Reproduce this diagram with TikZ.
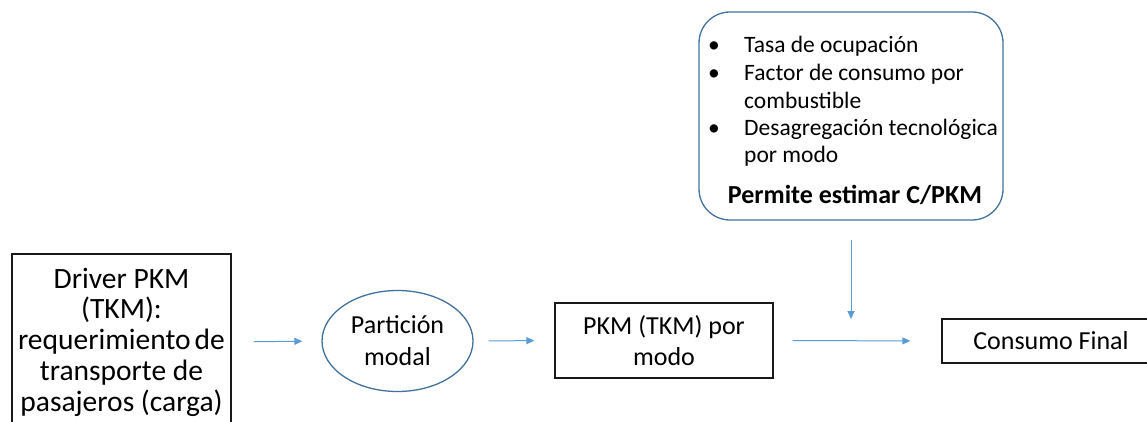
\documentclass[tikz,border=0pt]{standalone}
\usepackage{fontspec}
\setmainfont{Carlito}
\usetikzlibrary{arrows.meta,shapes.geometric}
\definecolor{flow}{HTML}{5B9BD5}
\definecolor{rim}{HTML}{41719C}
\tikzset{
  frame/.style={draw=black!90, line width=1.3pt, align=center, inner sep=0pt},
  body/.style={font=\fontsize{26}{31}\selectfont},
  oval/.style={ellipse, draw=rim, line width=1.3pt, align=center,
    inner xsep=-8pt, inner ysep=-10pt, font=\fontsize{26}{32}\selectfont},
  info/.style={draw=rim, line width=1.3pt, rounded corners=31pt, inner sep=0pt},
  flowarrow/.style={draw=flow, line width=1pt, -{Triangle[length=8pt,width=7pt]}},
  listline/.style={anchor=base west, inner sep=0pt, font=\fontsize{23.5}{28}\selectfont},
  listdot/.style={anchor=base, inner sep=0pt, font=\fontsize{23.5}{28}\selectfont},
  notetext/.style={anchor=base, inner sep=0pt, font=\fontsize{26}{30}\selectfont\bfseries}
}
\begin{document}
\begin{tikzpicture}[x=1pt,y=-1pt]
\useasboundingbox (0,0) rectangle (1147,422);
\clip (0,0) rectangle (1147,422);

% main chain
\node[frame, minimum width=219pt, minimum height=176pt,
      font=\fontsize{29.5}{30.8}\selectfont] (driver) at (121.5,342)
  {Driver PKM\\(TKM):\\requerimiento\hspace{4pt}de\\transporte de\\pasajeros (carga)};
\node[oval, minimum width=151pt, minimum height=101pt] (part) at (397.5,341)
  {Partición\\modal};
\node[frame, body, minimum width=218pt, minimum height=75pt] (pkm) at (664,340.5)
  {PKM (TKM) por\\modo};
\node[frame, body, minimum width=218pt, minimum height=44pt] (final) at (1051,341)
  {Consumo Final};

% box of factors
\node[info, minimum width=304pt, minimum height=208pt] (info) at (851,116) {};
\node[listdot] (d1) at (714,53) {\textbullet};
\node[listline] (t1) at (744,53) {Tasa de ocupación};
\node[listdot] (d2) at (714,81) {\textbullet};
\node[listline] (t2) at (744,81) {Factor de consumo por};
\node[listline] (t3) at (744,109) {combustible};
\node[listdot] (d3) at (714,136) {\textbullet};
\node[listline] (t4) at (744,136) {Desagregación tecnológica};
\node[listline] (t5) at (744,163) {por modo};
\node[notetext] (note) at (855,203) {Permite estimar C/PKM};

% connectors
\coordinate (vtip) at (851,319);
\draw[flowarrow, shorten <=22pt, shorten >=19pt] (driver.east) -- (part.west);
\draw[flowarrow, shorten <=15pt, shorten >=20pt] (part.east) -- (pkm.west);
\draw[flowarrow, shorten <=19pt, shorten >=31pt] (pkm.east) -- (final.west);
\draw[flowarrow, shorten <=19pt] (info.south -| vtip) -- (vtip);
\end{tikzpicture}
\end{document}
